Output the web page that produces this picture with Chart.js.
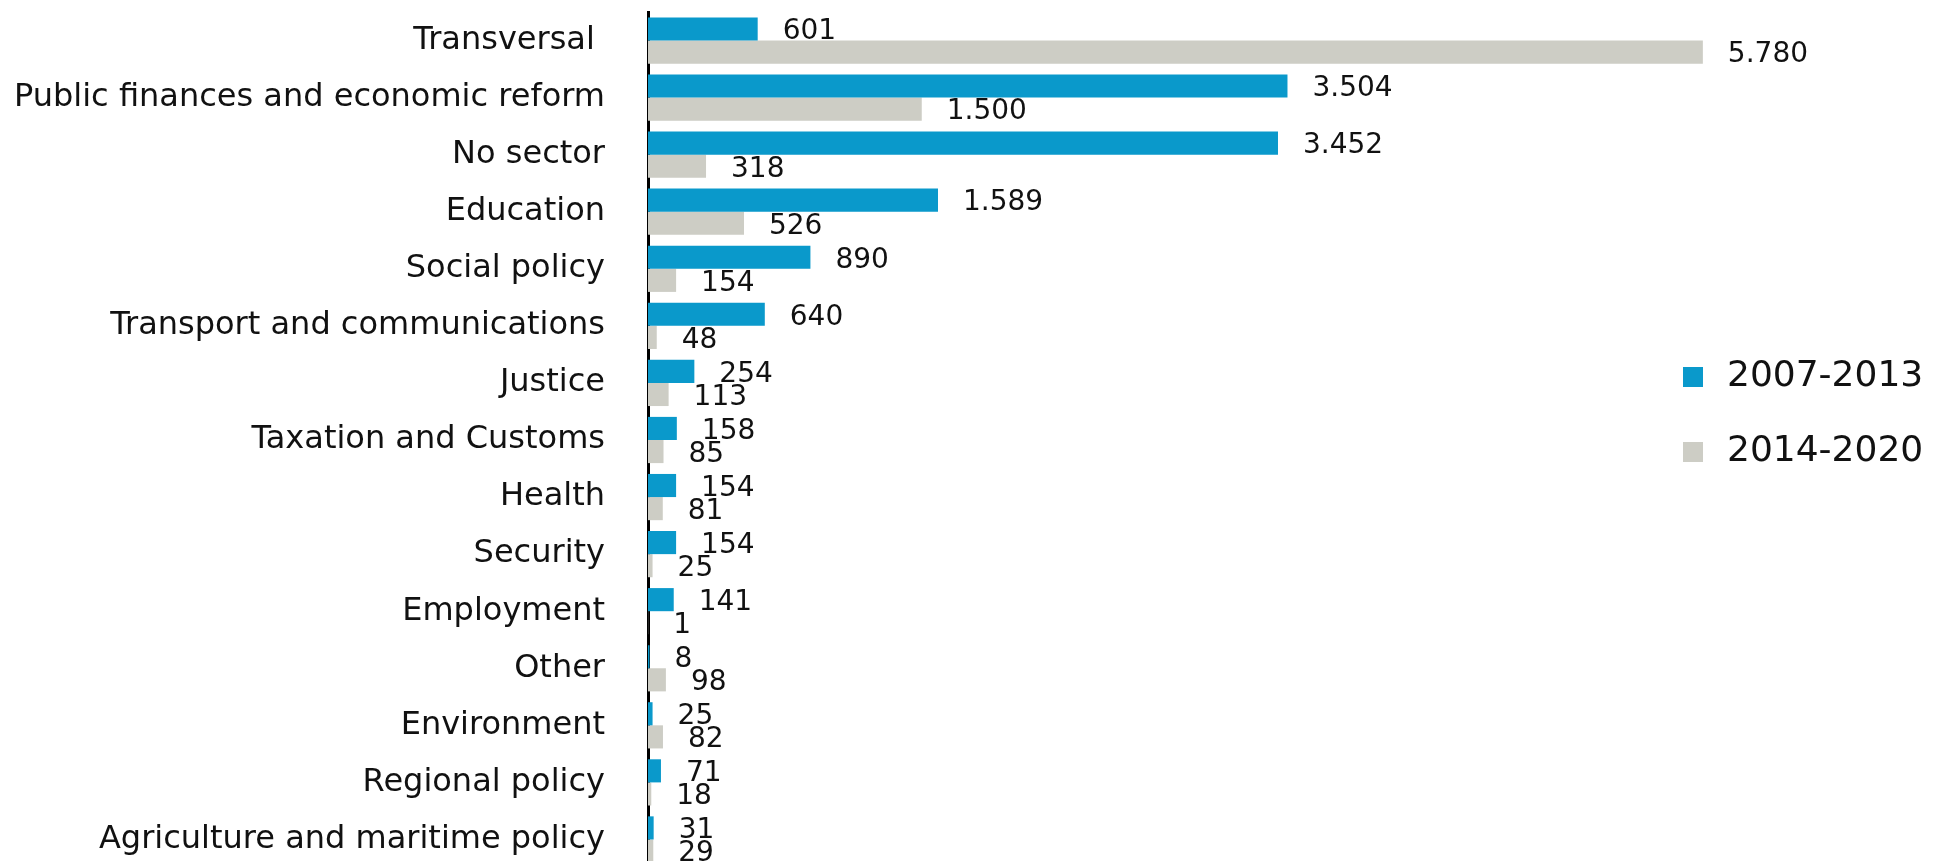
<!DOCTYPE html>
<html>
<head>
<meta charset="utf-8">
<title>Allocations by sector</title>
<script src="https://cdn.jsdelivr.net/npm/chart.js@4.4.1/dist/chart.umd.min.js"></script>
<style>
    html, body { margin: 0; padding: 0; background: #fff; overflow: hidden; }
    #wrap { position: absolute; left: 0; top: 0; width: 1933px; height: 868px; }
</style>
</head>
<body>
<div id="wrap"><canvas id="sectorChart"></canvas></div>
<script>
// Sectors, top to bottom
const sectors = [
    'Transversal ',
    'Public finances and economic reform',
    'No sector',
    'Education',
    'Social policy',
    'Transport and communications',
    'Justice',
    'Taxation and Customs',
    'Health',
    'Security',
    'Employment',
    'Other',
    'Environment',
    'Regional policy',
    'Agriculture and maritime policy'
];

// Programming periods
const periods = ['2007-2013', '2014-2020'];

// Amounts per sector
const amounts2007 = [601, 3504, 3452, 1589, 890, 640, 254, 158, 154, 154, 141, 8, 25, 71, 31];
const amounts2014 = [5780, 1500, 318, 526, 154, 48, 113, 85, 81, 25, 1, 98, 82, 18, 29];

const periodColors = ['#0a99cb', '#cdcdc5'];
const FONT = '"DejaVu Sans", Verdana, sans-serif';

/**
 * Writes each bar's value just past its end, dot as thousands separator
 */
const valueLabels = {
    id: 'valueLabels',
    afterDatasetsDraw(chart) {
        const ctx = chart.ctx;
        ctx.save();
        ctx.font = '28px ' + FONT;
        ctx.fillStyle = '#111';
        ctx.textAlign = 'left';
        ctx.textBaseline = 'middle';
        chart.data.datasets.forEach((ds, i) => {
            chart.getDatasetMeta(i).data.forEach((bar, j) => {
                const text = ds.data[j].toLocaleString('de-DE');
                ctx.fillText(text, bar.x + 25, bar.y + 3);
            });
        });
        ctx.restore();
    }
};

/**
 * Small legend on the right, square marker plus period name
 */
const sideLegend = {
    id: 'sideLegend',
    afterDraw(chart, args, opts) {
        const ctx = chart.ctx;
        ctx.save();
        ctx.font = opts.fontSize + 'px ' + FONT;
        ctx.textBaseline = 'middle';
        chart.data.datasets.forEach((ds, i) => {
            const cy = opts.y + i * opts.rowGap;
            ctx.fillStyle = ds.backgroundColor;
            ctx.fillRect(opts.x, cy - opts.box / 2, opts.box, opts.box);
            ctx.fillStyle = '#111';
            ctx.fillText(ds.label, opts.x + opts.box + 24, cy);
        });
        ctx.restore();
    }
};

new Chart(document.getElementById('sectorChart'), {
    type: 'bar',
    data: {
        labels: sectors,
        datasets: [
            { label: periods[0], data: amounts2007, backgroundColor: periodColors[0] },
            { label: periods[1], data: amounts2014, backgroundColor: periodColors[1] }
        ]
    },
    options: {
        indexAxis: 'y',
        responsive: true,
        maintainAspectRatio: false,
        animation: false,
        layout: { padding: { top: 12, right: 190, bottom: 0, left: 0 } },
        datasets: {
            bar: { categoryPercentage: 0.81, barPercentage: 1.0 }
        },
        scales: {
            x: {
                display: false,
                min: 0,
                max: 6000
            },
            y: {
                grid: { display: false, drawTicks: false },
                border: { display: true, color: '#000', width: 3 },
                ticks: {
                    color: '#111',
                    padding: 43,
                    font: { family: FONT, size: 32 }
                },
                afterFit(scale) {
                    // fixed gutter for the sector names, no extra margin above/below
                    scale.width = 648;
                    scale.paddingTop = 0;
                    scale.paddingBottom = 0;
                }
            }
        },
        plugins: {
            legend: { display: false },
            tooltip: { enabled: false },
            sideLegend: { x: 1683, y: 377, rowGap: 75, box: 20, fontSize: 36 }
        }
    },
    plugins: [valueLabels, sideLegend]
});
</script>
</body>
</html>
